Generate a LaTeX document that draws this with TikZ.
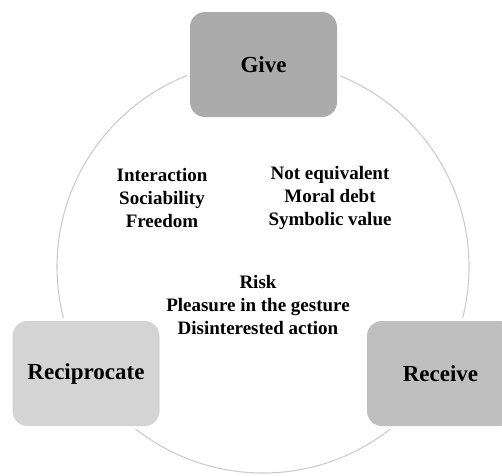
\documentclass[tikz,border=0pt]{standalone}
\usepackage{fontspec}
\setmainfont{Liberation Serif}
\begin{document}
\begin{tikzpicture}[x=1pt,y=-1pt,
  stage/.style={rounded corners=15pt, minimum width=147pt, minimum height=105pt,
    inner sep=0pt, font=\fontsize{23}{27}\selectfont\bfseries,
    preaction={draw=white, line width=6pt}},
  notes/.style={align=center, font=\fontsize{19}{23}\selectfont\bfseries, inner sep=0pt}]
  \useasboundingbox (0,0) rectangle (502,475);
  \clip (0,0) rectangle (502,475);
  % cycle ring
  \draw[color=black!20, line width=1.1pt] (263,267) circle (206);
  % the three stages
  \node[stage, fill=black!33] (give) at (263.5,64.5) {Give};
  \node[stage, fill=black!17] (recip) at (86,373.5) {Reciprocate};
  \node[stage, fill=black!25] (receive) at (440.5,373.5) {Receive};
  % qualities
  \node[notes] (left) at (162,198) {Interaction\\Sociability\\Freedom};
  \node[notes] (right) at (330,198) {Not equivalent\\Moral debt\\Symbolic value};
  \node[notes] (centre) at (258,304.5) {Risk\\Pleasure in the gesture\\Disinterested action};
\end{tikzpicture}
\end{document}
